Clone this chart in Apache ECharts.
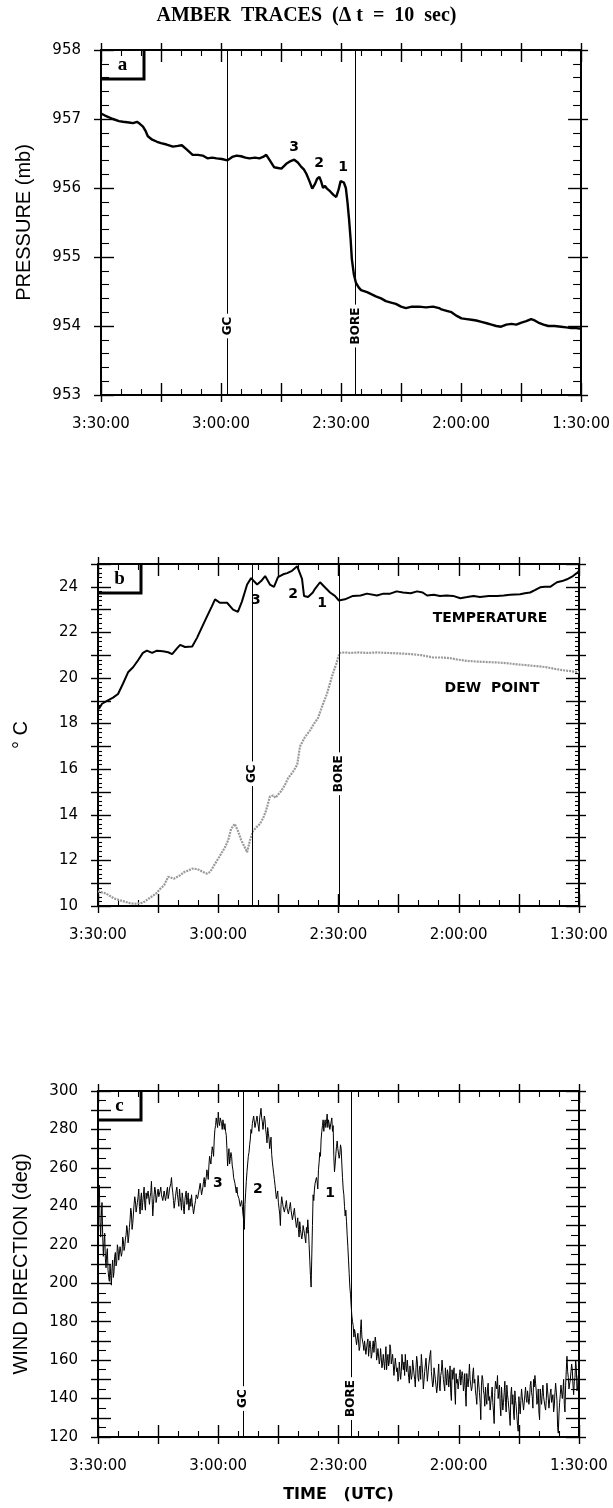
<!DOCTYPE html>
<html>
<head>
<meta charset="utf-8">
<title>AMBER traces</title>
<script src="https://cdn.jsdelivr.net/npm/echarts@6/dist/echarts.min.js"></script>
<style>
  html, body { margin: 0; padding: 0; background: #fff; }
  #chart { width: 613px; height: 1508px; }
</style>
</head>
<body>
<div id="chart"></div>
<script>
// Times are minutes after 00:00 UTC; the time axis runs backwards from 3:30 to 1:30.
const TIME_LEFT = 210;
const TIME_RIGHT = 90;

// (a) surface pressure, mb
const pressure = [
  [210,957.08],[209,957.05],[207,957.0],[205.5,956.97],[204.5,956.96],[203,956.95],[202,956.94],[201,956.96],
  [200.3,956.93],[199.5,956.89],[198.8,956.82],[198.3,956.75],[197.2,956.7],[196,956.67],[195,956.65],[193.6,956.63],
  [192,956.6],[190.8,956.61],[189.8,956.62],[188.6,956.56],[187.1,956.48],[185.8,956.48],[184.6,956.47],[183.4,956.43],
  [182.2,956.44],[181.1,956.43],[179.8,956.42],[178.4,956.4],[177.2,956.45],[176.1,956.47],[175,956.46],[173.9,956.44],
  [172.9,956.43],[171.5,956.44],[170.4,956.43],[169.5,956.45],[168.7,956.48],[167.8,956.4],[166.7,956.3],[165.8,956.29],
  [164.9,956.28],[163.7,956.35],[162.6,956.39],[161.7,956.41],[160.8,956.37],[160,956.31],[159.3,956.27],[158.7,956.21],
  [157.9,956.1],[157.2,955.99],[156.5,956.06],[156,956.13],[155.4,956.16],[155.0,956.1],[154.5,956.0],[154.0,956.03],
  [153.5,955.99],[152.7,955.95],[151.9,955.9],[151.2,955.87],[150.6,955.98],[150.1,956.1],[149.8,956.12],[149.3,956.08],
  [148.8,956.0],[148.4,955.8],[148,955.55],[147.6,955.25],[147.3,954.97],[146.8,954.75],[146.3,954.63],[145.6,954.56],
  [145,954.52],[143.5,954.49],[141.3,954.43],[140,954.4],[138.8,954.36],[137.5,954.34],[136.3,954.32],[135,954.28],
  [133.8,954.26],[132.3,954.28],[130.5,954.28],[128.8,954.27],[127,954.28],[125.5,954.26],[124.9,954.24],[123.6,954.22],
  [122.4,954.2],[121.2,954.15],[119.9,954.11],[118.6,954.1],[117.4,954.09],[116.2,954.08],[114.9,954.06],[113.6,954.04],
  [112.4,954.02],[111.2,954.0],[110,953.99],[108.7,954.02],[107.4,954.03],[106.2,954.02],[104.9,954.05],[103.7,954.07],
  [102.5,954.1],[101.6,954.08],[100.7,954.05],[99.4,954.02],[98.2,954.0],[96.6,954.0],[95,953.99],[93.7,953.98],
  [92.5,953.97],[91.2,953.97],[90,953.96]
];

// (b) temperature, deg C
const temperature = [
  [210,18.8],[209.75,18.65],[209,18.87],[207.75,19.0],[206.25,19.14],[205,19.3],[203.75,19.76],[202.5,20.25],
  [201.25,20.47],[200,20.78],[198.8,21.1],[197.8,21.2],[196.5,21.1],[195.3,21.2],[193.8,21.17],[192.5,21.13],
  [191.5,21.05],[190.3,21.3],[189.5,21.45],[188.3,21.36],[186.5,21.38],[185.3,21.76],[184,22.25],[182.8,22.7],
  [181.6,23.14],[180.8,23.45],[179.6,23.3],[177.8,23.3],[176.3,23.0],[175.1,22.9],[174.1,23.35],[172.8,24.1],
  [171.8,24.38],[170.3,24.1],[169.3,24.25],[168.3,24.47],[167.1,24.1],[166.1,24.0],[165.1,24.42],[163.8,24.55],
  [162.8,24.6],[161.6,24.7],[160.3,24.9],[159.9,24.85],[159.1,24.35],[158.6,23.6],[157.6,23.55],[156.4,23.75],
  [155.9,23.9],[154.6,24.2],[153.4,23.98],[152.1,23.75],[150.9,23.6],[149.9,23.4],[148.4,23.45],[146.4,23.6],
  [144.5,23.62],[142.9,23.7],[140.4,23.62],[138.8,23.7],[137.1,23.7],[135.5,23.8],[133.9,23.75],[132,23.72],
  [130.4,23.8],[129,23.75],[127.9,23.62],[126.2,23.65],[124.7,23.6],[123,23.62],[121.4,23.6],[119.6,23.5],
  [117.9,23.55],[116.3,23.6],[114.7,23.55],[112.5,23.6],[110.4,23.6],[108.8,23.62],[107.2,23.65],[104.7,23.67],
  [103.5,23.72],[102.2,23.75],[101,23.85],[99.7,23.98],[98.5,24.0],[97.2,24.0],[95.5,24.2],[94.2,24.25],
  [93,24.33],[91.5,24.47],[90.2,24.65],[90,24.72]
];

// (b) dew point, deg C
const dewPoint = [
  [210,10.65],[209.5,10.62],[208,10.55],[206,10.33],[204.5,10.25],[203.3,10.19],[202,10.12],[200.8,10.1],
  [199.8,10.12],[198.8,10.14],[197.3,10.33],[195.5,10.55],[194.5,10.75],[193.5,10.91],[192.5,11.28],[191,11.2],
  [189.5,11.35],[188.5,11.49],[187.5,11.55],[186.5,11.64],[185.2,11.62],[183.8,11.49],[182.8,11.42],[182,11.5],
  [181.3,11.71],[179.8,12.14],[178.3,12.58],[177.5,12.9],[176.8,13.38],[175.9,13.6],[175.1,13.3],[174.3,12.9],
  [173.6,12.65],[172.8,12.36],[172.1,12.87],[171.3,13.3],[170.5,13.45],[169.6,13.6],[168.8,13.85],[168.1,14.17],
  [167.1,14.8],[166.3,14.85],[165.7,14.75],[165,14.9],[164.3,15.04],[163.4,15.3],[162.6,15.6],[161.3,15.9],
  [160.3,16.2],[159.6,17.0],[158.4,17.4],[157.1,17.7],[156.1,18.0],[155.1,18.25],[154,18.8],[152.9,19.3],
  [151.4,20.2],[150.6,20.6],[150.1,20.9],[149.6,21.1],[148.4,21.12],[147.1,21.1],[145,21.12],[142.9,21.1],
  [140.4,21.12],[137.9,21.1],[135,21.08],[132.2,21.05],[129.3,21.0],[126.4,20.9],[124.2,20.9],[122.2,20.87],
  [120,20.8],[117.9,20.75],[115.4,20.72],[112.9,20.7],[110.4,20.68],[108,20.65],[105.5,20.6],[103,20.56],
  [100.5,20.52],[98,20.47],[96,20.4],[94,20.34],[92,20.3],[90,20.25]
];

// (c) wind direction, deg, one sample every 10 s starting at 3:30:00
const WIND_STEP_MIN = 1 / 6;
const windDirection = [
  238,246,251,232,224,235,242,225,214,221,226,213,208,215,218,207,203,201,210,204,
  199,208,212,203,206,214,216,209,211,220,218,212,213,219,220,214,216,224,222,217,
  219,223,225,230,228,221,224,229,233,239,237,228,231,236,241,245,243,237,238,242,
  245,249,240,236,244,247,238,242,246,250,241,238,247,244,243,248,249,241,245,247,
  253,244,235,241,246,250,248,242,243,247,249,245,245,248,250,246,246,243,244,248,
  249,243,245,248,250,244,246,249,249,252,255,250,247,243,239,242,245,248,250,246,
  243,240,249,245,242,238,247,244,239,236,243,246,248,241,243,247,238,241,244,240,
  246,242,239,236,237,241,243,246,247,244,243,248,248,252,251,246,247,250,253,255,
  250,253,255,259,257,254,261,266,264,262,267,271,269,266,275,280,282,286,285,281,
  289,284,282,286,287,283,280,285,286,280,283,279,277,270,261,266,270,262,265,268,
  266,261,259,255,256,252,251,247,250,246,247,244,245,240,241,243,240,236,233,228,
  241,247,253,258,262,266,268,272,275,280,278,283,283,287,286,281,282,285,287,284,
  283,279,286,288,291,286,284,280,281,287,285,280,277,273,281,278,275,270,273,276,
  267,263,260,257,254,251,250,244,246,248,242,239,236,230,241,245,246,240,241,237,
  237,241,243,239,239,236,235,240,242,238,237,233,234,237,239,235,235,229,231,234,
  228,224,232,228,227,223,225,230,230,226,225,221,229,226,233,228,220,212,204,198,
  199,230,246,243,249,252,251,255,253,249,259,263,268,266,275,279,282,285,279,283,
  285,281,284,288,281,285,283,280,279,284,286,279,282,266,258,262,267,271,274,270,
  270,265,267,272,270,262,255,249,246,240,235,238,232,225,219,212,205,198,194,188,
  183,180,178,172,176,174,171,168,168,174,173,165,167,176,181,172,172,168,165,170,
  170,163,164,169,171,162,166,170,168,161,163,167,170,164,165,172,169,160,162,166,
  167,158,160,166,165,156,158,163,164,155,161,167,155,160,163,157,159,168,166,158,
  157,163,162,152,153,161,160,154,156,149,151,159,158,150,154,163,162,155,159,152,
  163,157,154,160,160,151,148,157,158,150,152,160,161,153,150,146,156,162,159,151,
  149,155,157,150,163,158,153,145,146,154,155,161,160,149,150,157,158,163,165,154,
  155,146,148,156,157,150,151,143,146,153,158,147,144,152,154,160,159,150,149,144,
  156,151,147,155,153,146,150,157,143,139,155,150,149,156,144,137,153,148,150,145,
  145,152,155,147,148,154,152,144,147,153,143,136,153,149,146,151,158,150,150,144,
  146,153,156,148,150,144,141,137,146,152,151,143,138,129,147,152,150,144,142,136,
  146,140,137,145,148,139,141,134,135,142,146,138,133,127,143,149,150,145,152,140,
  141,147,136,131,146,140,134,138,143,149,138,133,147,142,139,135,131,126,142,146,
  137,142,133,129,144,139,136,131,126,123,141,136,132,139,145,141,140,134,135,142,
  146,140,138,144,145,137,140,147,149,143,141,135,150,146,152,148,144,137,139,145,
  133,129,145,140,137,143,147,141,142,136,134,139,148,144,140,135,136,143,145,138,
  138,142,133,136,143,148,147,139,125,122,132,138,142,147,146,140,144,150,137,133,
  147,155,162,154,151,145,144,150,149,158,155,147,142,149,151,160,156,144,146,152,
  136
];

// gust-front (GC) and bore passage times in each panel, minutes
const gcTimes = [178.4, 171.6, 173.8];
const boreTimes = [146.4, 149.9, 146.9];
// height at which the GC / BORE tags sit in each panel
const eventTagLevel = [954, 15.8, 140];

// numbered features: [time, value, tag]
const featureTagsA = [[161.7, 956.59, '3'], [155.5, 956.35, '2'], [149.5, 956.3, '1']];
const featureTagsB = [[170.6, 23.42, '3'], [161.35, 23.68, '2'], [154.1, 23.29, '1']];
const featureTagsC = [[180.1, 252, '3'], [170.1, 249, '2'], [152.1, 247, '1']];
const curveTagsB = [[112.2, 22.63, 'TEMPERATURE'], [111.7, 19.56, 'DEW  POINT']];

const panelLetters = ['a', 'b', 'c'];
const axisNames = ['PRESSURE (mb)', '\u00b0 C', 'WIND DIRECTION (deg)'];
const valueRanges = [
  { min: 953, max: 958, interval: 1, minor: 5, labelEvery: 1 },
  { min: 10, max: 25, interval: 1, minor: 5, labelEvery: 2 },
  { min: 120, max: 300, interval: 10, minor: 2, labelEvery: 20 }
];

// plot rectangles (px)
const grids = [
  { left: 101, top: 50, width: 482, height: 345 },
  { left: 98, top: 564, width: 481, height: 342 },
  { left: 98, top: 1091, width: 481, height: 346 }
];

const TICK_FONT = 'DejaVu Sans';
const black = '#000';

function clock(m) {
  const h = Math.floor(m / 60), mm = Math.round(m % 60);
  return h + ':' + String(mm).padStart(2, '0') + ':00';
}

const xAxes = [], yAxes = [];
grids.forEach((g, gi) => {
  const xBase = {
    type: 'value', gridIndex: gi, min: TIME_RIGHT, max: TIME_LEFT, interval: 15, inverse: true,
    splitLine: { show: false }
  };
  const tickIn = { inside: true, length: 12, lineStyle: { color: black, width: 1.4 } };
  const tickOut = { inside: false, length: 7, lineStyle: { color: black, width: 1.4 } };
  const minorX = { show: true, splitNumber: 3, length: 6, lineStyle: { color: black, width: 1.1 } };
  ['bottom', 'top'].forEach(pos => {
    xAxes.push(Object.assign({}, xBase, {
      position: pos,
      axisLine: { onZero: false, lineStyle: { color: black, width: 2 } },
      axisTick: tickIn,
      minorTick: minorX,
      axisLabel: pos === 'bottom' ? {
        margin: 22, color: black, fontFamily: TICK_FONT, fontSize: 15,
        formatter: v => (v % 30 === 0 ? clock(v) : '')
      } : { show: false },
      name: (pos === 'bottom' && gi === 2) ? 'TIME   (UTC)' : '',
      nameLocation: 'middle', nameGap: 50,
      nameTextStyle: { color: black, fontFamily: 'DejaVu Sans', fontWeight: 'bold', fontSize: 16 }
    }));
    xAxes.push(Object.assign({}, xBase, {
      position: pos,
      axisLine: { show: false, onZero: false },
      axisTick: tickOut,
      axisLabel: { show: false }
    }));
  });

  const r = valueRanges[gi];
  const yBase = {
    type: 'value', gridIndex: gi, min: r.min, max: r.max, interval: r.interval,
    splitLine: { show: false }
  };
  const minorY = { show: true, splitNumber: r.minor, length: gi === 1 ? 4 : 8, lineStyle: { color: black, width: 1.1 } };
  ['left', 'right'].forEach(pos => {
    yAxes.push(Object.assign({}, yBase, {
      position: pos,
      axisLine: { onZero: false, lineStyle: { color: black, width: 2 } },
      axisTick: { inside: true, length: 13, lineStyle: { color: black, width: 1.4 } },
      minorTick: minorY,
      axisLabel: pos === 'left' ? {
        margin: 20, color: black, fontFamily: TICK_FONT, fontSize: 15,
        formatter: v => (Math.round(v) % r.labelEvery === 0 ? String(Math.round(v)) : '')
      } : { show: false },
      name: pos === 'left' ? axisNames[gi] : '',
      nameLocation: 'middle', nameGap: 67,
      nameTextStyle: { color: black, fontFamily: 'Liberation Sans', fontSize: 20 }
    }));
    yAxes.push(Object.assign({}, yBase, {
      position: pos,
      axisLine: { show: false, onZero: false },
      axisTick: { inside: false, length: 7, lineStyle: { color: black, width: 1.4 } },
      axisLabel: { show: false }
    }));
  });
});

function tagSeries(gi, data, labelOpts) {
  return {
    type: 'scatter', xAxisIndex: gi * 4, yAxisIndex: gi * 4, z: 5,
    symbolSize: 0, silent: true, data: data,
    itemStyle: { opacity: 1, color: black },
    label: Object.assign({
      show: true, position: 'inside', color: black, formatter: p => p.data[2]
    }, labelOpts)
  };
}

function eventLines(gi) {
  return {
    silent: true, symbol: ['none', 'none'], label: { show: false },
    lineStyle: { color: black, width: 1, type: 'solid', opacity: 1 },
    emphasis: { disabled: true },
    data: [{ xAxis: gcTimes[gi] }, { xAxis: boreTimes[gi] }]
  };
}

const lineBase = { type: 'line', showSymbol: false, symbol: 'none', silent: true, smooth: false };

const series = [
  Object.assign({}, lineBase, {
    xAxisIndex: 0, yAxisIndex: 0, data: pressure,
    lineStyle: { color: black, width: 2.4 }, markLine: eventLines(0)
  }),
  Object.assign({}, lineBase, {
    xAxisIndex: 4, yAxisIndex: 4, data: dewPoint,
    lineStyle: { color: '#9a9a9a', width: 2.2, type: [2, 1] }, markLine: eventLines(1)
  }),
  Object.assign({}, lineBase, {
    xAxisIndex: 4, yAxisIndex: 4, data: temperature,
    lineStyle: { color: black, width: 2 }
  }),
  Object.assign({}, lineBase, {
    xAxisIndex: 8, yAxisIndex: 8,
    data: windDirection.map((v, i) => [TIME_LEFT - i * WIND_STEP_MIN, v]),
    lineStyle: { color: black, width: 1 }, markLine: eventLines(2)
  })
];

const eventTagStyle = {
  rotate: 90, fontFamily: 'DejaVu Sans', fontWeight: 'bold', fontSize: 12,
  backgroundColor: '#fff', padding: [1, 3]
};
[0, 1, 2].forEach(gi => {
  series.push(tagSeries(gi, [
    [gcTimes[gi], eventTagLevel[gi], 'GC'],
    [boreTimes[gi], eventTagLevel[gi], 'BORE']
  ], eventTagStyle));
});
const numberStyle = { fontFamily: 'DejaVu Sans', fontWeight: 'bold', fontSize: 14 };
series.push(tagSeries(0, featureTagsA, numberStyle));
series.push(tagSeries(1, featureTagsB, numberStyle));
series.push(tagSeries(2, featureTagsC, numberStyle));
series.push(tagSeries(1, curveTagsB, { fontFamily: 'DejaVu Sans', fontWeight: 'bold', fontSize: 14 }));

// panel letter boxes in the upper-left corner of each frame
const graphic = [];
grids.forEach((g, gi) => {
  const w = 43, h = 29;
  graphic.push({
    type: 'polyline', silent: true, z: 10,
    shape: { points: [[g.left, g.top + h], [g.left + w, g.top + h], [g.left + w, g.top]] },
    style: { stroke: black, lineWidth: 3, fill: null }
  });
  graphic.push({
    type: 'text', silent: true, z: 10,
    style: {
      text: panelLetters[gi], x: g.left + w / 2, y: g.top + h / 2 + 1,
      textAlign: 'center', textVerticalAlign: 'middle',
      font: 'bold 19px "Liberation Serif"', fill: black
    }
  });
});

const chart = echarts.init(document.getElementById('chart'), null, { renderer: 'canvas' });
chart.setOption({
  animation: false,
  backgroundColor: '#fff',
  title: {
    text: 'AMBER  TRACES  (\u0394 t  =  10  sec)',
    left: 'center', top: 1,
    textStyle: { fontFamily: 'Liberation Serif', fontWeight: 'bold', fontSize: 20, color: black }
  },
  grid: grids.map(g => Object.assign({ containLabel: false }, g)),
  xAxis: xAxes,
  yAxis: yAxes,
  series: series,
  graphic: graphic
});
</script>
</body>
</html>
